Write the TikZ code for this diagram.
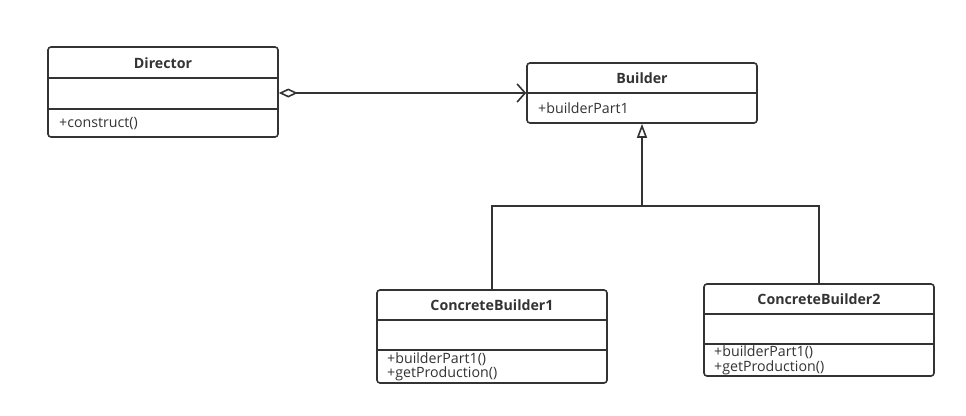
\documentclass[tikz,border=0pt]{standalone}
\usepackage{fontspec}
\setmainfont{Open Sans}
\usetikzlibrary{arrows.meta}
\definecolor{ink}{HTML}{333333}
\tikzset{
  cls/.style={draw=ink, line width=1.6pt, rounded corners=3pt, inner sep=0pt, fill=white},
  ttl/.style={font=\bfseries\fontsize{14.2}{16}\selectfont, text=ink, inner sep=0pt},
  mem/.style={font=\fontsize{14.2}{16}\selectfont, text=ink, inner sep=0pt, anchor=west},
  sep/.style={draw=ink, line width=1.6pt},
  conn/.style={draw=ink, line width=1.6pt}
}
\begin{document}
\begin{tikzpicture}[x=1pt,y=-1pt]
\useasboundingbox (0,0) rectangle (966,415);
% Director
\node[cls, minimum width=230pt, minimum height=90pt] (dir) at (163,92) {};
\draw[sep] (48,78) -- (278,78);
\draw[sep] (48,109) -- (278,109);
\node[ttl] (dirt) at (163,63) {Director};
\node[mem] (dirm) at (59,124) {+construct()};
% Builder
\node[cls, minimum width=230pt, minimum height=60pt] (bld) at (642,93) {};
\draw[sep] (527,93) -- (757,93);
\node[ttl] (bldt) at (642,78) {Builder};
\node[mem] (bldm) at (538,108) {+builderPart1};
% ConcreteBuilder1
\node[cls, minimum width=230pt, minimum height=93pt] (cb1) at (492,336.5) {};
\draw[sep] (377,320) -- (607,320);
\draw[sep] (377,350) -- (607,350);
\node[ttl] (cb1t) at (492,305) {ConcreteBuilder1};
\node[mem] (cb1a) at (387,359) {+builderPart1()};
\node[mem] (cb1b) at (387,374) {+getProduction()};
% ConcreteBuilder2
\node[cls, minimum width=230pt, minimum height=92pt] (cb2) at (819,330) {};
\draw[sep] (704,314) -- (934,314);
\draw[sep] (704,344) -- (934,344);
\node[ttl] (cb2t) at (819,299) {ConcreteBuilder2};
\node[mem] (cb2a) at (714,352.5) {+builderPart1()};
\node[mem] (cb2b) at (714,367.5) {+getProduction()};
% connectors
\draw[conn, {Diamond[open, length=19pt, width=9pt, line width=1.6pt]}-{Straight Barb[length=8pt, width=18pt, line width=1.6pt]}] (dir.east |- bld.west) -- (bld.west);
\coordinate (j) at (642,206);
\draw[conn] (cb1.north) |- (j);
\draw[conn] (cb2.north) |- (j);
\draw[conn, -{Triangle[open, length=14pt, width=10pt, line width=1.6pt]}] (j) -- (bld.south);
\end{tikzpicture}
\end{document}
